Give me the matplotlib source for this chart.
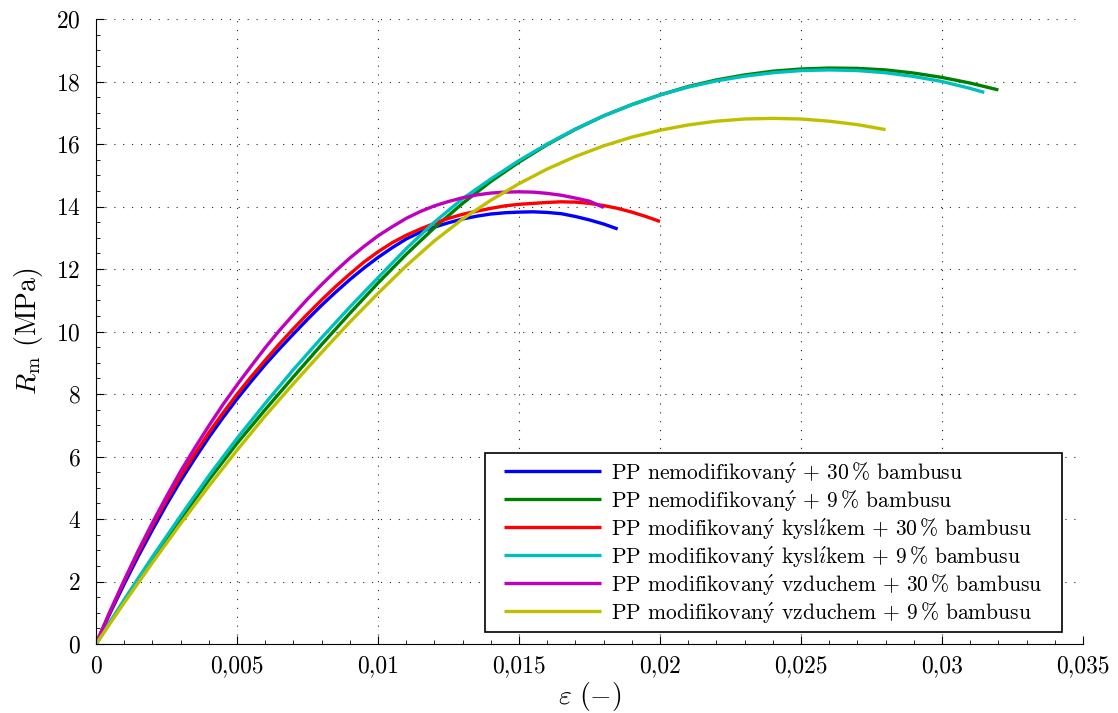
import matplotlib
matplotlib.use("Agg")
import matplotlib.pyplot as plt
from matplotlib.patches import Rectangle
from matplotlib.transforms import IdentityTransform
from matplotlib.ticker import AutoMinorLocator

# ── Data ──────────────────────────────────────────────────────
# strain grid for the 30 % series
eps_fine = [0, 0.0005, 0.001, 0.0015, 0.002, 0.0025, 0.003, 0.0035, 0.004, 0.0045,
            0.005, 0.0055, 0.006, 0.0065, 0.007, 0.0075, 0.008, 0.0085, 0.009, 0.0095,
            0.010, 0.0105, 0.011, 0.0115, 0.012, 0.0125, 0.013, 0.0135, 0.014, 0.0145,
            0.015, 0.0155, 0.016, 0.0165, 0.017, 0.0175, 0.018, 0.0185, 0.019, 0.0195,
            0.020]

# PP nemodifikovaný + 30 % bambusu
rm_n30 = [0, 0.99, 1.92, 2.81, 3.65, 4.46, 5.22, 5.93, 6.61, 7.24,
          7.84, 8.40, 8.94, 9.44, 9.92, 10.39, 10.84, 11.26, 11.66, 12.03,
          12.37, 12.68, 12.96, 13.18, 13.34, 13.48, 13.60, 13.69, 13.76, 13.80,
          13.82, 13.83, 13.81, 13.77, 13.68, 13.57, 13.44, 13.28]
eps_n30 = eps_fine[:len(rm_n30)]

# PP modifikovaný kyslíkem + 30 % bambusu
rm_k30 = [0, 1.03, 2.01, 2.92, 3.79, 4.60, 5.37, 6.08, 6.76, 7.39,
          7.99, 8.55, 9.08, 9.60, 10.09, 10.56, 11.01, 11.44, 11.84, 12.22,
          12.55, 12.84, 13.08, 13.28, 13.46, 13.62, 13.75, 13.85, 13.94, 14.02,
          14.07, 14.10, 14.13, 14.15, 14.14, 14.10, 14.03, 13.94, 13.82, 13.68,
          13.52]
eps_k30 = eps_fine[:len(rm_k30)]

# PP modifikovaný vzduchem + 30 % bambusu
rm_v30 = [0, 1.05, 2.04, 2.99, 3.88, 4.72, 5.53, 6.27, 6.98, 7.66,
          8.29, 8.89, 9.48, 10.03, 10.54, 11.04, 11.50, 11.94, 12.35, 12.72,
          13.06, 13.35, 13.62, 13.84, 14.02, 14.16, 14.28, 14.37, 14.43, 14.46,
          14.47, 14.46, 14.42, 14.36, 14.27, 14.17, 13.97]
eps_v30 = eps_fine[:len(rm_v30)]

# strain grid for the 9 % series
eps_coarse = [0, 0.001, 0.002, 0.003, 0.004, 0.005, 0.006, 0.007, 0.008, 0.009,
              0.010, 0.011, 0.012, 0.013, 0.014, 0.015, 0.016, 0.017, 0.018, 0.019,
              0.020, 0.021, 0.022, 0.023, 0.024, 0.025, 0.026, 0.027, 0.028, 0.029,
              0.030, 0.031, 0.032]

# PP nemodifikovaný + 9 % bambusu
rm_n9 = [0, 1.38, 2.72, 4.0, 5.25, 6.42, 7.5, 8.55, 9.58, 10.58,
         11.55, 12.47, 13.32, 14.1, 14.8, 15.42, 15.98, 16.47, 16.9, 17.26,
         17.57, 17.84, 18.05, 18.21, 18.33, 18.4, 18.43, 18.42, 18.37, 18.27,
         18.13, 17.95, 17.73]
eps_n9 = eps_coarse

# PP modifikovaný kyslíkem + 9 % bambusu
eps_k9 = eps_coarse[:32] + [0.0315]
rm_k9 = [0, 1.42, 2.79, 4.1, 5.38, 6.58, 7.7, 8.78, 9.8, 10.78,
         11.72, 12.65, 13.5, 14.25, 14.88, 15.47, 16.0, 16.48, 16.9, 17.26,
         17.57, 17.82, 18.02, 18.17, 18.28, 18.35, 18.37, 18.35, 18.28, 18.16,
         18.0, 17.78, 17.65]

# PP modifikovaný vzduchem + 9 % bambusu
rm_v9 = [0, 1.32, 2.6, 3.85, 5.05, 6.2, 7.3, 8.33, 9.33, 10.3,
         11.22, 12.1, 12.9, 13.6, 14.2, 14.73, 15.2, 15.6, 15.94, 16.22,
         16.44, 16.61, 16.73, 16.8, 16.82, 16.8, 16.73, 16.62, 16.46]
eps_v9 = eps_coarse[:len(rm_v9)]

labels = [
    r"PP nemodifikovan$\mathrm{\acute{y}}$ $+$ 30$\,$% bambusu",
    r"PP nemodifikovan$\mathrm{\acute{y}}$ $+$ 9$\,$% bambusu",
    r"PP modifikovan$\mathrm{\acute{y}}$ kysl$\mathrm{\acute{\imath}}$kem $+$ 30$\,$% bambusu",
    r"PP modifikovan$\mathrm{\acute{y}}$ kysl$\mathrm{\acute{\imath}}$kem $+$ 9$\,$% bambusu",
    r"PP modifikovan$\mathrm{\acute{y}}$ vzduchem $+$ 30$\,$% bambusu",
    r"PP modifikovan$\mathrm{\acute{y}}$ vzduchem $+$ 9$\,$% bambusu",
]
colors = ["#0000ff", "#007f00", "#ff0000", "#00bfbf", "#bf00bf", "#bfbf00"]

x_ticks = [0, 0.005, 0.01, 0.015, 0.02, 0.025, 0.03, 0.035]
x_tick_labels = ["0", "0,005", "0,01", "0,015", "0,02", "0,025", "0,03", "0,035"]
y_ticks = [0, 2, 4, 6, 8, 10, 12, 14, 16, 18, 20]

# ── Style ─────────────────────────────────────────────────────
plt.rcParams["font.family"] = ["cmr10", "STIXGeneral"]
plt.rcParams["mathtext.fontset"] = "cm"
plt.rcParams["axes.formatter.use_mathtext"] = True

fig = plt.figure(figsize=(11.18, 7.13), dpi=100)
ax = fig.add_axes([0.08587, 0.09677, 0.88283, 0.87658])

series = [(eps_n30, rm_n30), (eps_n9, rm_n9), (eps_k30, rm_k30),
          (eps_k9, rm_k9), (eps_v30, rm_v30), (eps_v9, rm_v9)]
for (xs, ys), lab, col in zip(series, labels, colors):
    ax.plot(xs, ys, color=col, lw=2.4, label=lab, solid_capstyle="butt",
            solid_joinstyle="round")

ax.set_xlim(0, 0.035)
ax.set_ylim(0, 20)
ax.set_xticks(x_ticks)
ax.set_xticklabels(x_tick_labels)
ax.set_yticks(y_ticks)
ax.xaxis.set_minor_locator(AutoMinorLocator(5))
ax.yaxis.set_minor_locator(AutoMinorLocator(4))
ax.tick_params(which="both", direction="in", labelsize=17, top=False, right=False)
ax.tick_params(which="major", length=6, width=0.8)
ax.tick_params(which="minor", length=3, width=0.6)
ax.tick_params(axis="x", pad=8)
ax.tick_params(axis="y", pad=11)

for side in ("top", "right"):
    ax.spines[side].set_visible(False)

ax.grid(True, which="major", linestyle=(0, (1, 7)), color="black", lw=0.8, alpha=0.85)

ax.set_xlabel(r"$\varepsilon\ (-)$", fontsize=20, labelpad=2)
ax.set_ylabel(r"$R_\mathrm{m}$ (MPa)", fontsize=20, labelpad=8)

# legend without its own frame; frame drawn separately with MATLAB-like padding
leg = ax.legend(loc="lower right", bbox_to_anchor=(0.9595, 0.0304), borderaxespad=0,
                borderpad=0, fontsize=15.5, frameon=False, handlelength=4.5,
                handletextpad=0.5, labelspacing=0.14)
leg.set_zorder(6)
fig.canvas.draw()
bb = leg.get_window_extent()
pad_x, pad_y = 19, 7
frame = Rectangle((bb.x0 - pad_x, bb.y0 - pad_y), bb.width + 2 * pad_x, bb.height + 2 * pad_y,
                  transform=IdentityTransform(), facecolor="white", edgecolor="black",
                  lw=1.2, clip_on=False, zorder=5.5)
ax.add_artist(frame)

fig.savefig("out.png", dpi=100)
